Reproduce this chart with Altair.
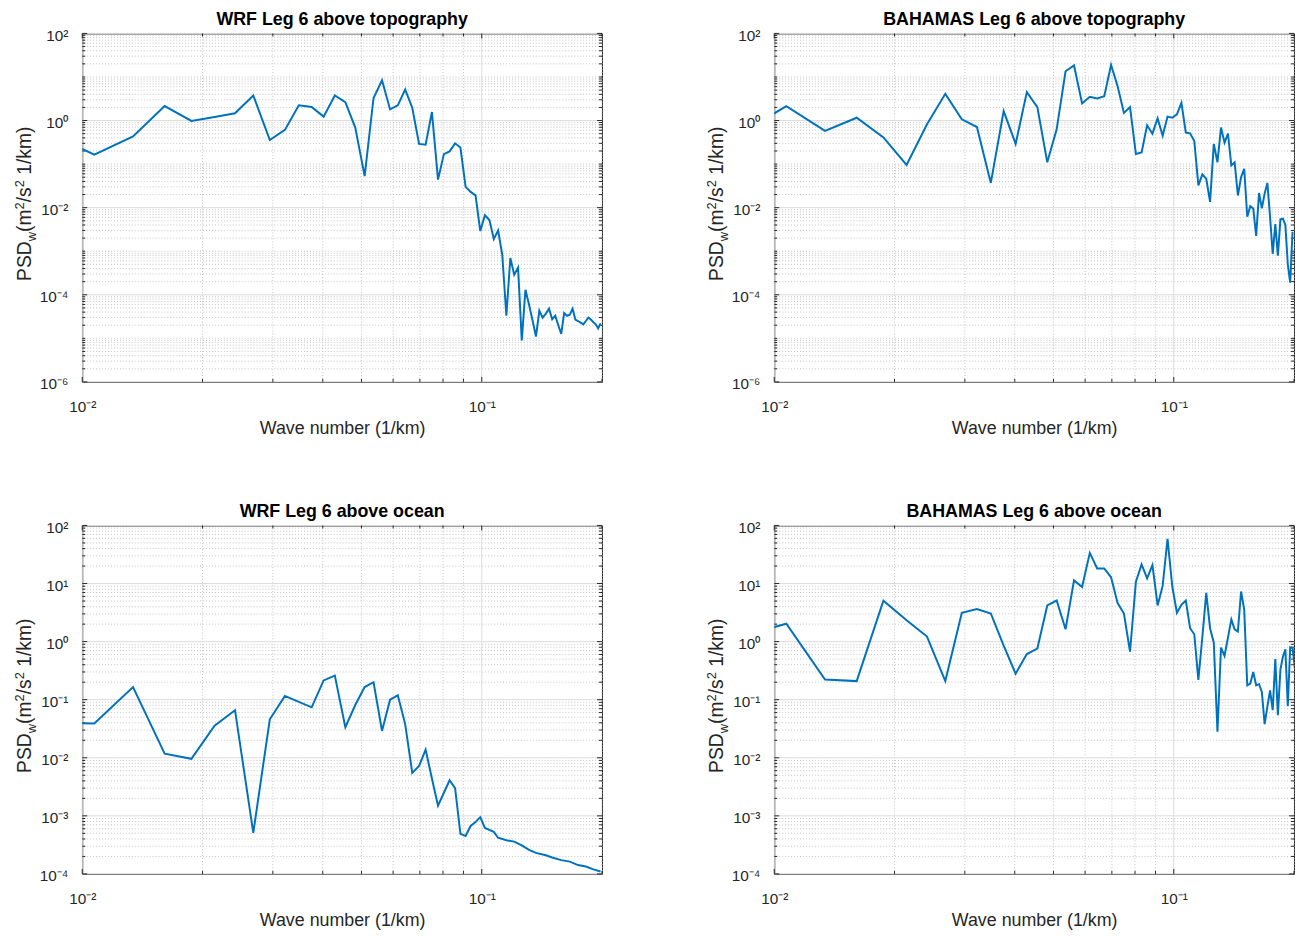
import math
import altair as alt
import pandas as pd

# ---------------- data ----------------
# wavenumber grid (1/km) shared by all four spectra
WAVENUMBER = [
    0.00804, 0.01072, 0.0134, 0.01608, 0.01876, 0.02144, 0.02412, 0.0268, 0.02948, 0.03216,
    0.03484, 0.03752, 0.0402, 0.04288, 0.04556, 0.04824, 0.05092, 0.0536, 0.05628, 0.05896,
    0.06164, 0.06432, 0.067, 0.06968, 0.07236, 0.07504, 0.07772, 0.0804, 0.08308, 0.08576,
    0.08844, 0.09112, 0.0938, 0.09648, 0.09916, 0.10184, 0.10452, 0.1072, 0.10988, 0.11256,
    0.11524, 0.11792, 0.1206, 0.12328, 0.12596, 0.12864, 0.13132, 0.134, 0.13668, 0.13936,
    0.14204, 0.14472, 0.1474, 0.15008, 0.15276, 0.15544, 0.15812, 0.1608, 0.16348, 0.16616,
    0.16884, 0.17152, 0.1742, 0.17688, 0.17956, 0.18224, 0.18492, 0.1876, 0.19028, 0.19296,
    0.19564, 0.19832, 0.201,
]

PSD_WRF_TOPO = [
    0.57, 0.165, 0.43, 2.15, 0.98, 1.2, 1.47, 3.76, 0.356, 0.61,
    2.23, 2.04, 1.23, 3.76, 2.65, 0.69, 0.053, 3.3, 8.4, 1.8,
    2.23, 5.15, 1.97, 0.29, 0.28, 1.57, 0.044, 0.17, 0.196, 0.30,
    0.24, 0.030, 0.023, 0.0192, 0.0029, 0.0067, 0.0052, 0.0019, 0.0030, 0.00083,
    3.3e-5, 7.0e-4, 2.9e-4, 4.2e-4, 8.9e-6, 1.3e-4, 6.0e-5, 2.6e-5, 1.1e-5, 4.3e-5,
    3.0e-5, 3.7e-5, 4.8e-5, 2.75e-5, 3.3e-5, 2.0e-5, 1.26e-5, 3.8e-5, 3.3e-5, 3.5e-5,
    4.8e-5, 2.7e-5, 2.5e-5, 2.3e-5, 2.1e-5, 2.5e-5, 3.0e-5, 2.7e-5, 2.35e-5, 2.1e-5,
    1.7e-5, 2.2e-5, None,
]

PSD_BAH_TOPO = [
    0.44, 2.15, 0.58, 1.16, 0.41, 0.096, 0.82, 4.1, 1.07, 0.71,
    0.037, 1.65, 0.29, 4.5, 2.04, 0.11, 0.63, 13.5, 18.4, 2.47,
    3.5, 3.2, 3.6, 19.0, 6.1, 1.5, 2.04, 0.17, 0.186, 0.78,
    0.50, 1.13, 0.45, 1.23, 1.16, 1.39, 2.55, 0.53, 0.51, 0.34,
    0.0325, 0.058, 0.046, 0.0136, 0.29, 0.11, 0.69, 0.31, 0.50, 0.093,
    0.11, 0.019, 0.05, 0.078, 0.0062, 0.0108, 0.0096, 0.00225, 0.0217, 0.0096,
    0.021, 0.037, 0.0062, 0.00087, 0.0042, 0.00079, 0.0054, 0.0056, 0.004, 0.0005,
    0.00019, 0.0028, None,
]

PSD_WRF_OCEAN = [
    0.04, 0.039, 0.165, 0.0118, 0.0096, 0.0358, 0.066, 0.00051, 0.046, 0.116,
    0.092, 0.074, 0.215, 0.26, 0.0336, 0.081, 0.165, 0.20, 0.029, 0.10,
    0.119, 0.038, 0.0055, 0.0072, 0.0138, 0.0044, 0.0015, 0.0025, 0.0041, 0.003,
    0.00049, 0.00045, 0.00067, 0.00078, 0.00095, 0.00062, None, 0.00053, 0.00042, None,
    0.00038, None, 0.00036, None, 0.00031, None, 0.00026, None, 0.00023, None,
    None, 0.00021, None, 0.000192, None, None, 0.000173, None, None, 0.000163,
    None, None, 0.000142, None, None, 0.000134, None, None, 0.00012, None,
    None, 0.00011, None,
]

PSD_BAH_OCEAN = [
    1.18, 2.03, 0.223, 0.209, 5.08, 2.34, 1.22, 0.209, 3.13, 3.65,
    3.05, 0.85, 0.28, 0.61, 0.76, 4.2, 5.1, 1.63, 11.3, 8.7,
    33.7, 18.2, 18.2, 12.8, 4.6, 3.05, 0.67, 10.8, 21.3, 12.3,
    20.8, 4.2, 9.1, 59.0, 8.9, 3.13, 4.3, 5.1, 1.7, 1.34,
    0.22, 1.2, 6.9, 1.7, 0.96, 0.028, 0.79, 0.57, 1.17, 2.41,
    1.63, 1.49, 7.3, 3.6, 0.177, 0.19, 0.30, 0.177, 0.185, 0.136,
    0.038, 0.075, 0.145, 0.066, 0.50, 0.054, 0.33, 0.55, 0.74, 0.077,
    0.80, 0.78, 0.35,
]

TITLES = [
    "WRF Leg 6 above topography",
    "BAHAMAS Leg 6 above topography",
    "WRF Leg 6 above ocean",
    "BAHAMAS Leg 6 above ocean",
]

X_DOMAIN = [0.01, 0.2]
X_MAJOR = [0.01, 0.1]
X_MINOR = [0.02, 0.03, 0.04, 0.05, 0.06, 0.07, 0.08, 0.09, 0.2]

Y_DOMAIN_TOP = [1e-6, 1e2]
Y_MAJOR_TOP = [1e-6, 1e-4, 1e-2, 1.0, 1e2]
Y_DOMAIN_BOTTOM = [1e-4, 1e2]
Y_MAJOR_BOTTOM = [1e-4, 1e-3, 1e-2, 1e-1, 1.0, 1e1, 1e2]

X_TITLE = "Wave number (1/km)"
# y title pieces: (text, role) role: main / sub / sup
Y_TITLE_PIECES = [("PSD", "main"), ("w", "sub"), ("(m", "main"), ("2", "sup"),
                  ("/s", "main"), ("2", "sup"), (" 1/km)", "main")]

# ---------------- styling ----------------
W, H = 525, 352
FONT = "Liberation Sans"
LINE_COLOR = "#0072BD"
AX_COLOR = "#262626"
MAJOR_GRID = "#dcdcdc"
MINOR_GRID = "#c4c4c4"

SUP = {"-": "\u207b", "0": "\u2070", "1": "\u00b9", "2": "\u00b2", "3": "\u00b3",
       "4": "\u2074", "5": "\u2075", "6": "\u2076", "7": "\u2077", "8": "\u2078", "9": "\u2079"}
_e = "toString(round(log(datum.value)/LN10))"
for a, b in SUP.items():
    _e = f"replace({_e}, '{a}', '{b}')"
LABEL_EXPR = "'10' + " + _e

# Arial / Liberation Sans advance widths (per 1000 em) for the y-title layout
ADV = {"P": 667, "S": 667, "D": 722, "w": 722, "(": 333, "m": 833, "2": 556, "/": 278,
       "s": 500, " ": 278, "1": 556, "k": 500, ")": 333}
F_MAIN, F_SMALL = 19.5, 13.0


def minor_values(lo_exp, hi_exp, majors):
    vals = []
    for e in range(lo_exp, hi_exp):
        for m in range(1, 10):
            v = m * 10.0 ** e
            if not any(abs(v - M) / M < 1e-9 for M in majors):
                vals.append(v)
    return vals


def y_title_layers(start):
    layers = []
    pos = 0.0
    for text, role in Y_TITLE_PIECES:
        fs = F_MAIN if role == "main" else F_SMALL
        xb = -51.5 if role == "main" else (-46.5 if role == "sub" else -58.5)
        lead = len(text) - len(text.lstrip(" "))
        pos += lead * ADV[" "] * fs / 1000
        t = text.strip(" ")
        layers.append(
            alt.Chart(alt.Data(values=[{"t": t}]))
            .mark_text(angle=270, align="left", baseline="alphabetic", font=FONT,
                       fontSize=fs, color=AX_COLOR)
            .encode(text="t:N", x=alt.value(xb), y=alt.value(start - pos))
        )
        pos += sum(ADV[c] for c in t) * fs / 1000
    return layers


def panel(title, psd, y_domain, y_major):
    lo_exp = round(math.log10(y_domain[0]))
    hi_exp = round(math.log10(y_domain[1]))
    y_minor = minor_values(lo_exp, hi_exp, y_major)

    xs = alt.Scale(type="log", domain=X_DOMAIN, nice=False)
    ys = alt.Scale(type="log", domain=y_domain, nice=False)
    xaxis = alt.Axis(values=X_MAJOR, labelExpr=LABEL_EXPR, title=X_TITLE, grid=False,
                     domain=False, ticks=False, labelPadding=29.5, labelBaseline="alphabetic",
                     labelFlush=False, labelOverlap=False, labelFont=FONT, labelFontSize=15.5,
                     labelColor=AX_COLOR, titleFont=FONT, titleFontSize=18,
                     titleFontWeight="normal", titleColor=AX_COLOR, titleY=52,
                     titleBaseline="alphabetic")
    yaxis = alt.Axis(values=y_major, labelExpr=LABEL_EXPR, title=None, grid=False,
                     domain=False, ticks=False, labelPadding=14.5, labelAlign="right",
                     labelBaseline="alphabetic", labelOffset=7, labelFlush=False,
                     labelOverlap=False, labelFont=FONT, labelFontSize=15.5,
                     labelColor=AX_COLOR)
    X = alt.X("k:Q", scale=xs, axis=xaxis)
    Y = alt.Y("psd:Q", scale=ys, axis=yaxis)

    xmaj = pd.DataFrame({"k": X_MAJOR})
    xmin = pd.DataFrame({"k": X_MINOR})
    ymaj = pd.DataFrame({"psd": y_major})
    ymin = pd.DataFrame({"psd": y_minor})
    line_df = pd.DataFrame({"k": WAVENUMBER, "psd": psd}).dropna()

    title_mark = (
        alt.Chart(alt.Data(values=[{"t": title}]))
        .mark_text(align="center", baseline="alphabetic", font=FONT, fontSize=18,
                   fontWeight="bold", color="black")
        .encode(text="t:N", x=alt.value(W / 2), y=alt.value(-9))
    )

    layers = [
        alt.Chart(xmin).mark_rule(stroke=MINOR_GRID, strokeWidth=1, strokeDash=[1, 2]).encode(x=X),
        alt.Chart(ymin).mark_rule(stroke=MINOR_GRID, strokeWidth=1, strokeDash=[1, 2]).encode(y=Y),
        alt.Chart(xmaj).mark_rule(stroke=MAJOR_GRID, strokeWidth=1).encode(x=X),
        alt.Chart(ymaj).mark_rule(stroke=MAJOR_GRID, strokeWidth=1).encode(y=Y),
        # inward ticks on all four sides
        alt.Chart(xmaj).mark_rule(stroke=AX_COLOR).encode(x=X, y=alt.value(H), y2=alt.value(H - 5)),
        alt.Chart(xmaj).mark_rule(stroke=AX_COLOR).encode(x=X, y=alt.value(0), y2=alt.value(5)),
        alt.Chart(xmin).mark_rule(stroke=AX_COLOR).encode(x=X, y=alt.value(H), y2=alt.value(H - 3)),
        alt.Chart(xmin).mark_rule(stroke=AX_COLOR).encode(x=X, y=alt.value(0), y2=alt.value(3)),
        alt.Chart(ymaj).mark_rule(stroke=AX_COLOR).encode(y=Y, x=alt.value(0), x2=alt.value(5)),
        alt.Chart(ymaj).mark_rule(stroke=AX_COLOR).encode(y=Y, x=alt.value(W - 5), x2=alt.value(W)),
        alt.Chart(ymin).mark_rule(stroke=AX_COLOR).encode(y=Y, x=alt.value(0), x2=alt.value(3)),
        alt.Chart(ymin).mark_rule(stroke=AX_COLOR).encode(y=Y, x=alt.value(W - 3), x2=alt.value(W)),
        alt.Chart(line_df).mark_line(color=LINE_COLOR, strokeWidth=2, clip=True).encode(x=X, y=Y),
        title_mark,
    ] + y_title_layers(250)

    return alt.layer(*layers).properties(width=W, height=H)


tl = panel(TITLES[0], PSD_WRF_TOPO, Y_DOMAIN_TOP, Y_MAJOR_TOP)
tr = panel(TITLES[1], PSD_BAH_TOPO, Y_DOMAIN_TOP, Y_MAJOR_TOP)
bl = panel(TITLES[2], PSD_WRF_OCEAN, Y_DOMAIN_BOTTOM, Y_MAJOR_BOTTOM)
br = panel(TITLES[3], PSD_BAH_OCEAN, Y_DOMAIN_BOTTOM, Y_MAJOR_BOTTOM)

chart = (
    alt.concat(tl, tr, bl, br, columns=2, spacing={"row": 145, "column": 174}, bounds="flush")
    .properties(padding={"left": 6, "top": -3, "right": 0, "bottom": 0})
    .configure(background="white")
    .configure_view(stroke=AX_COLOR, strokeWidth=1)
)

chart.save("out.html", embed_options={"renderer": "svg", "actions": False})
